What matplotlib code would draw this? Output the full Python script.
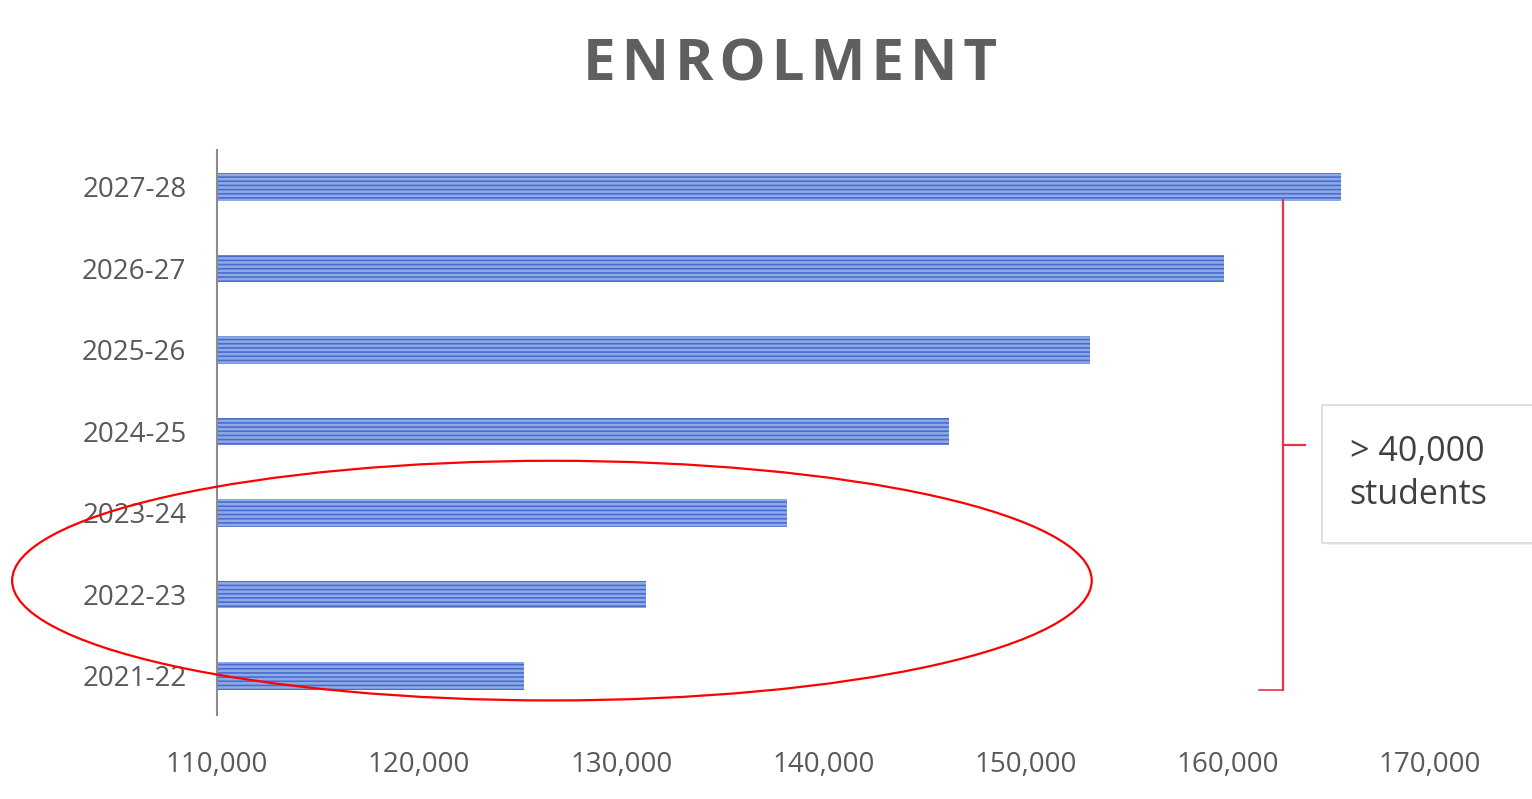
import matplotlib.pyplot as plt
from matplotlib.patches import Ellipse, Rectangle
from matplotlib.ticker import FuncFormatter

plt.rcParams['font.family'] = ['Open Sans', 'DejaVu Sans']
plt.rcParams['hatch.linewidth'] = 1.2

# enrolment per school year
years = ['2021-22', '2022-23', '2023-24', '2024-25', '2025-26', '2026-27', '2027-28']
enrolment = [125200, 131200, 138200, 146200, 153200, 159800, 165600]
x_ticks = [110000, 120000, 130000, 140000, 150000, 160000, 170000]

grey = '#595959'
red_line = '#e8334a'

fig = plt.figure(figsize=(15.32, 7.99), dpi=100)
ax = fig.add_axes([0.1416, 0.105, 0.7918, 0.707])

ypos = list(range(len(years)))
ax.barh(ypos, enrolment, height=0.34, left=0, color='#8eaae6',
        edgecolor='#4a6cd0', hatch='----', linewidth=0)

ax.set_xlim(110000, 170000)
ax.set_ylim(-0.48, 6.45)
ax.set_xticks(x_ticks)
ax.xaxis.set_major_formatter(FuncFormatter(lambda v, p: f'{int(v):,}'))
ax.set_yticks(ypos)
ax.set_yticklabels(years)
ax.tick_params(axis='both', length=0, labelsize=20, labelcolor=grey)
ax.tick_params(axis='y', pad=22)
ax.tick_params(axis='x', pad=26)

for s in ['top', 'right', 'bottom']:
    ax.spines[s].set_visible(False)
ax.spines['left'].set_color('#8c8c8c')
ax.spines['left'].set_linewidth(1.5)

# letter-spaced title
title = '\u200a'.join('ENROLMENT')
fig.text(0.516, 0.918, title, ha='center', va='center', fontsize=42,
         fontweight='bold', color='#5f5f5f')

# red ellipse around the first three years
ax.add_patch(Ellipse((126570, 1.17), 53400, 2.94, fill=False, edgecolor='red',
                     linewidth=1.6, clip_on=False, zorder=5))

# bracket from the top bar to the bottom one
bx = 162740
ax.plot([bx, bx], [5.84, -0.17], color=red_line, lw=1.6, clip_on=False)
ax.plot([bx - 1200, bx], [-0.17, -0.17], color=red_line, lw=1.2, clip_on=False)
ax.plot([bx, bx + 1100], [2.83, 2.83], color=red_line, lw=1.6, clip_on=False)

# callout box
fig.patches.append(Rectangle((0.866, 0.318), 0.15, 0.173, transform=fig.transFigure,
                             facecolor='#e6e6e6', edgecolor='none', alpha=0.6))
fig.patches.append(Rectangle((0.863, 0.3204), 0.15, 0.1727, transform=fig.transFigure,
                             facecolor='white', edgecolor='#d9d9d9', linewidth=1.2))
fig.text(0.881, 0.407, '> 40,000\nstudents', ha='left', va='center', fontsize=24.5,
         color='#404040', linespacing=1.35)

fig.savefig('out.png', dpi=100, facecolor='white')
